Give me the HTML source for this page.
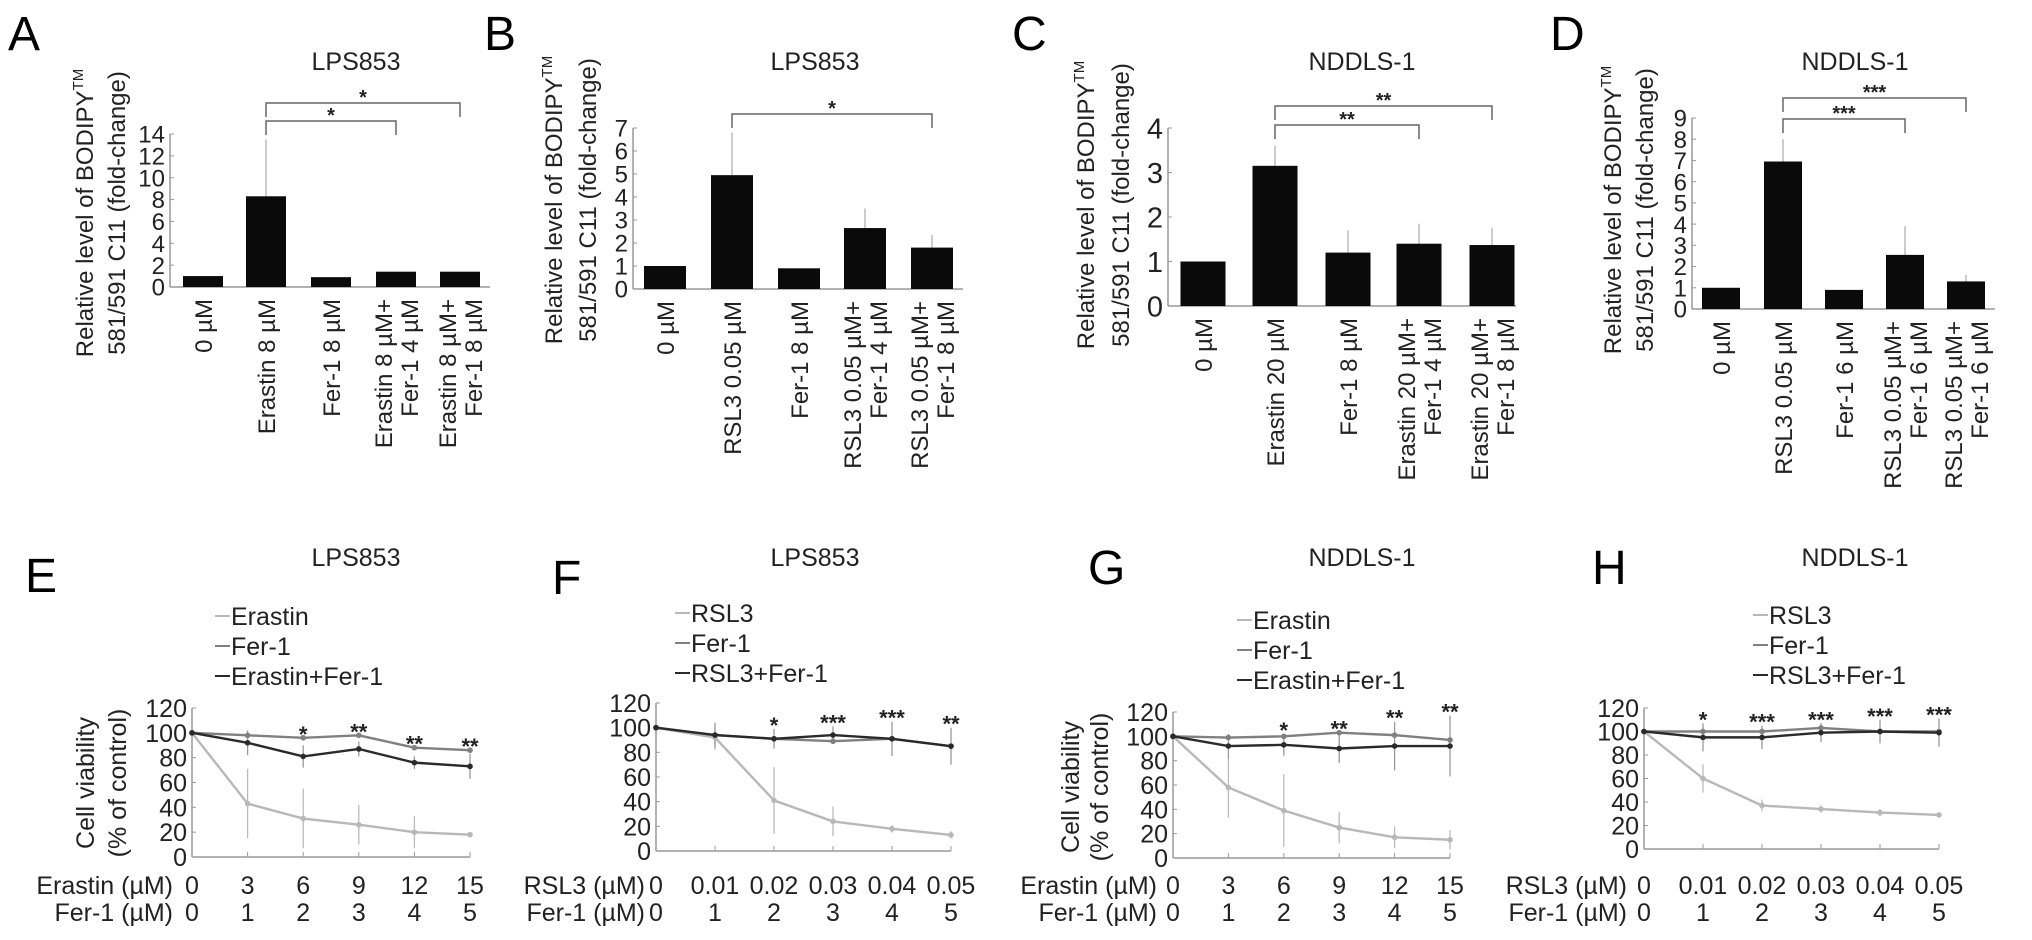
<!DOCTYPE html>
<html><head><meta charset="utf-8"><style>
html,body{margin:0;padding:0;background:#fff}
svg{display:block;font-family:"Liberation Sans",sans-serif}
</style></head><body>
<svg id="fig" width="2032" height="940" viewBox="0 0 2032 940" xmlns="http://www.w3.org/2000/svg"></svg>
<script>
// ---------- Bar chart data ----------
const barA = [1, 8.3, 0.9, 1.4, 1.4];
const errA = [0, 13.5, 0, 0, 0];
const barB = [1, 4.95, 0.9, 2.65, 1.8];
const errB = [0, 6.8, 0, 3.5, 2.35];
const barC = [1, 3.15, 1.2, 1.4, 1.37];
const errC = [0, 3.6, 1.7, 1.85, 1.75];
const barD = [1, 6.95, 0.9, 2.55, 1.3];
const errD = [0, 8.0, 0, 3.9, 1.6];
const catsA = [["0 µM"],["Erastin 8 µM"],["Fer-1 8 µM"],["Erastin 8 µM+","Fer-1 4 µM"],["Erastin 8 µM+","Fer-1 8 µM"]];
const catsB = [["0 µM"],["RSL3 0.05 µM"],["Fer-1 8 µM"],["RSL3 0.05 µM+","Fer-1 4 µM"],["RSL3 0.05 µM+","Fer-1 8 µM"]];
const catsC = [["0 µM"],["Erastin 20 µM"],["Fer-1 8 µM"],["Erastin 20 µM+","Fer-1 4 µM"],["Erastin 20 µM+","Fer-1 8 µM"]];
const catsD = [["0 µM"],["RSL3 0.05 µM"],["Fer-1 6 µM"],["RSL3 0.05 µM+","Fer-1 6 µM"],["RSL3 0.05 µM+","Fer-1 6 µM"]];
const ticksA = [0,2,4,6,8,10,12,14];
const ticksB = [0,1,2,3,4,5,6,7];
const ticksC = [0,1,2,3,4];
const ticksD = [0,1,2,3,4,5,6,7,8,9];
const sigA = ["*","*"], sigB = ["*"], sigC = ["**","**"], sigD = ["***","***"];

// ---------- Line chart data ----------
const xIdx = [0,1,2,3,4,5];
const eraTicks = ["0","3","6","9","12","15"];
const rslTicks = ["0","0.01","0.02","0.03","0.04","0.05"];
const ferTicks = ["0","1","2","3","4","5"];
const yTicksLine = [0,20,40,60,80,100,120];
const eDrug = [100,43,31,26,20,18];
const eFer = [100,98,96,98,88,86];
const eComb = [100,92,81,87,76,73];
const eDrugErr = [0,28,24,16,13,2];
const eCombErr = [0,10,9,6,5,10];
const eStars = ["","","*","**","**","**"];
const fDrug = [100,92,41,24,18,13];
const fFer = [100,94,91,89,91,85];
const fComb = [100,94,91,94,91,85];
const fDrugErr = [0,10,27,12,3,3];
const fCombErr = [0,10,8,7,14,15];
const fStars = ["","","*","***","***","**"];
const gDrug = [100,58,39,25,17,15];
const gFer = [100,99,100,103,101,97];
const gComb = [100,92,93,90,92,92];
const gDrugErr = [0,25,30,13,9,8];
const gCombErr = [0,10,9,12,20,25];
const gStars = ["","","*","**","**","**"];
const hDrug = [100,60,37,34,31,29];
const hFer = [100,100,100,103,100,100];
const hComb = [100,95,95,99,100,99];
const hDrugErr = [0,12,5,3,3,2];
const hCombErr = [0,12,10,8,10,12];
const hStars = ["","*","***","***","***","***"];

const NS = "http://www.w3.org/2000/svg";
const svg = document.getElementById("fig");
function el(tag, attrs, parent, txt){
  const e = document.createElementNS(NS, tag);
  for (const k in attrs) e.setAttribute(k, attrs[k]);
  if (txt !== undefined) e.textContent = txt;
  (parent||svg).appendChild(e);
  return e;
}
function letter(t, x, y){
  const e = el("text",{x:x,y:y,"font-size":48},svg,t);
  
  
}
function title(t, x, y){
  const e = el("text",{x:x,y:y,"font-size":25,"text-anchor":"middle",fill:"#222"},svg,t);
  
  
}

function barChart(o){
  const g = el("g",{});
  
  
  const max = o.ticks[o.ticks.length-1];
  const y = v => o.y0 - (o.y0 - o.yTop) * v / max;
  const yl = el("text",{transform:`translate(${o.lx1},${o.ly}) rotate(-90)`,"font-size":24,"text-anchor":"middle",fill:"#222"},g);
  
  
  el("tspan",{},yl,"Relative level of BODIPY");
  el("tspan",{"font-size":15,dy:-10},yl,"TM");
  const yl2 = el("text",{transform:`translate(${o.lx2},${o.ly}) rotate(-90)`,"font-size":24,"text-anchor":"middle",fill:"#222"},g,"581/591 C11 (fold-change)");
  
  
  el("line",{x1:o.ax,y1:o.yTop,x2:o.ax,y2:o.y0,stroke:"#999","stroke-width":1.5},g);
  el("line",{x1:o.ax,y1:o.y0,x2:o.xEnd,y2:o.y0,stroke:"#999","stroke-width":1.5},g);
  o.ticks.forEach(t=>{
    el("line",{x1:o.ax,y1:y(t),x2:o.ax+4,y2:y(t),stroke:"#999","stroke-width":1},g);
    const tt = el("text",{x:o.ax-5,y:y(t)+o.tf*0.36,"font-size":o.tf,"text-anchor":"end",fill:"#222"},g,String(t));
    
    
  });
  o.vals.forEach((v,i)=>{
    const cx = o.cx[i];
    if (o.err[i] > v) {
      const e1 = el("line",{x1:cx,y1:y(o.err[i]),x2:cx,y2:y(v),stroke:"#bbb","stroke-width":1.5},g);
      
      
    }
    const r = el("rect",{x:cx-o.bw/2,y:y(v),width:o.bw,height:o.y0-y(v),fill:"#0a0a0a"},g);
    
    
    const lines = o.cats[i];
    lines.forEach((ln,j)=>{
      const off = lines.length===1 ? 9 : (j===0 ? -4 : 22);
      const ct = el("text",{transform:`translate(${cx+off},${o.y0+12}) rotate(-90)`,"font-size":24,"text-anchor":"end",fill:"#222"},g,ln);
      
      
    });
  });
  o.brackets.forEach((b,k)=>{
    const x1 = o.cx[b.from], x2 = o.cx[b.to];
    const p = el("path",{d:`M${x1},${b.y+14} V${b.y} H${x2} V${b.y+14}`,fill:"none",stroke:"#666","stroke-width":1.5},g);
    
    
    const s = el("text",{x:(x1+x2)/2,y:b.y+1,"font-size":20,"text-anchor":"middle","font-weight":"bold",fill:"#222"},g,o.sig[k]);
    
    
  });
}

function lineChart(o){
  const g = el("g",{});
  
  
  const x = i => o.ax + (o.xEnd - o.ax) * i / 5;
  const y = v => o.y0 - (o.y0 - o.y120) * v / 120;
  if (o.ylab){
    const a = el("text",{transform:`translate(${o.lx1},${o.ly}) rotate(-90)`,"font-size":25,"text-anchor":"middle",fill:"#222"},g,"Cell viability");
    
    
    const b = el("text",{transform:`translate(${o.lx2},${o.ly}) rotate(-90)`,"font-size":25,"text-anchor":"middle",fill:"#222"},g,"(% of control)");
    
    
  }
  el("line",{x1:o.ax,y1:o.y120,x2:o.ax,y2:o.y0,stroke:"#999","stroke-width":1.5},g);
  el("line",{x1:o.ax,y1:o.y0,x2:o.xEnd,y2:o.y0,stroke:"#999","stroke-width":1.5},g);
  yTicksLine.forEach(t=>{
    el("line",{x1:o.ax,y1:y(t),x2:o.ax+4,y2:y(t),stroke:"#999","stroke-width":1},g);
    const tt = el("text",{x:o.ax-5,y:y(t)+9,"font-size":25,"text-anchor":"end",fill:"#222"},g,String(t));
    
    
  });
  xIdx.forEach(i=>{
    el("line",{x1:x(i),y1:o.y0,x2:x(i),y2:o.y0-5,stroke:"#999","stroke-width":1},g);
    const a = el("text",{x:x(i),y:894,"font-size":25,"text-anchor":"middle",fill:"#222"},g,o.xt1[i]);
    
    
    const b = el("text",{x:x(i),y:921,"font-size":25,"text-anchor":"middle",fill:"#222"},g,ferTicks[i]);
    
    
  });
  const r1 = el("text",{x:o.lblEnd,y:894,"font-size":25,"text-anchor":"end",fill:"#222"},g,o.drug+" (µM)");
  
  
  const r2 = el("text",{x:o.lblEnd,y:921,"font-size":25,"text-anchor":"end",fill:"#222"},g,"Fer-1 (µM)");
  
  
  xIdx.forEach(i=>{
    if (o.de[i]>0) el("line",{x1:x(i),y1:y(o.d[i]+o.de[i]),x2:x(i),y2:y(Math.max(0,o.d[i]-o.de[i])),stroke:"#bbb","stroke-width":1.3},g);
    if (o.ce[i]>0) el("line",{x1:x(i),y1:y(o.c[i]+o.ce[i]),x2:x(i),y2:y(o.c[i]-o.ce[i]),stroke:"#999","stroke-width":1.3},g);
  });
  const series = [[o.d,"#b8b8b8","drug"],[o.f,"#808080","fer1"],[o.c,"#2a2a2a","combination"]];
  series.forEach(([s,col,nm])=>{
    const p = el("polyline",{points:s.map((v,i)=>x(i)+","+y(v)).join(" "),fill:"none",stroke:col,"stroke-width":2.4},g);
    
    
    s.forEach((v,i)=>{
      const c = el("circle",{cx:x(i),cy:y(v),r:2.8,fill:col},g);
      
      
    });
  });
  xIdx.forEach(i=>{
    if (!o.stars[i]) return;
    const top = Math.max(o.f[i], o.c[i]+o.ce[i]);
    const s = el("text",{x:x(i),y:y(top)+4,"font-size":22,"text-anchor":"middle","font-weight":"bold",fill:"#222"},g,o.stars[i]);
    
    
  });
  const names = [o.drug, "Fer-1", o.drug+"+Fer-1"];
  [["#b8b8b8",0],["#808080",1],["#2a2a2a",2]].forEach(([col,k])=>{
    const ly = o.legY + k*30;
    const lg = el("g",{},g);
    
    
    el("line",{x1:o.legX,y1:ly-9,x2:o.legX+15,y2:ly-9,stroke:col,"stroke-width":2},lg);
    el("text",{x:o.legX+16,y:ly,"font-size":25,fill:"#222"},lg,names[k]);
  });
}

letter("A",8,50); letter("B",484,50); letter("C",1012,50); letter("D",1550,50);
title("LPS853",356,70); title("LPS853",815,70); title("NDDLS-1",1362,70); title("NDDLS-1",1855,70);

barChart({id:"a",vals:barA,err:errA,cats:catsA,ticks:ticksA,sig:sigA,ax:170,y0:287,yTop:134,xEnd:490,cx:[203,266,331,396,460],bw:40,tf:24,lx1:93,lx2:125,ly:213,
  brackets:[{from:1,to:4,y:103},{from:1,to:3,y:121}]});
barChart({id:"b",vals:barB,err:errB,cats:catsB,ticks:ticksB,sig:sigB,ax:633,y0:289,yTop:128,xEnd:963,cx:[665,732,799,865,932],bw:42,tf:24,lx1:562,lx2:596,ly:200,
  brackets:[{from:1,to:4,y:114}]});
barChart({id:"c",vals:barC,err:errC,cats:catsC,ticks:ticksC,sig:sigC,ax:1168,y0:306,yTop:128,xEnd:1516,cx:[1203,1275,1348,1419,1492],bw:45,tf:29,lx1:1094,lx2:1129,ly:205,
  brackets:[{from:1,to:4,y:106},{from:1,to:3,y:125}]});
barChart({id:"d",vals:barD,err:errD,cats:catsD,ticks:ticksD,sig:sigD,ax:1692,y0:309,yTop:118,xEnd:1995,cx:[1721,1783,1844,1905,1966],bw:38,tf:24,lx1:1621,lx2:1653,ly:210,
  brackets:[{from:1,to:4,y:98},{from:1,to:3,y:119}]});

letter("E",25,592); letter("F",552,594); letter("G",1088,584); letter("H",1592,584);
title("LPS853",356,566); title("LPS853",815,566); title("NDDLS-1",1362,566); title("NDDLS-1",1855,566);

lineChart({id:"e",d:eDrug,f:eFer,c:eComb,de:eDrugErr,ce:eCombErr,stars:eStars,drug:"Erastin",xt1:eraTicks,ax:192,xEnd:470,y0:857,y120:708,lblEnd:173,legX:215,legY:625,ylab:true,lx1:94,lx2:126,ly:783});
lineChart({id:"f",d:fDrug,f:fFer,c:fComb,de:fDrugErr,ce:fCombErr,stars:fStars,drug:"RSL3",xt1:rslTicks,ax:656,xEnd:951,y0:851,y120:703,lblEnd:645,legX:675,legY:622,ylab:false});
lineChart({id:"g",d:gDrug,f:gFer,c:gComb,de:gDrugErr,ce:gCombErr,stars:gStars,drug:"Erastin",xt1:eraTicks,ax:1173,xEnd:1450,y0:858,y120:712,lblEnd:1157,legX:1237,legY:629,ylab:true,lx1:1079,lx2:1108,ly:787});
lineChart({id:"h",d:hDrug,f:hFer,c:hComb,de:hDrugErr,ce:hCombErr,stars:hStars,drug:"RSL3",xt1:rslTicks,ax:1644,xEnd:1939,y0:849,y120:708,lblEnd:1627,legX:1753,legY:624,ylab:false});
</script>
</body></html>
